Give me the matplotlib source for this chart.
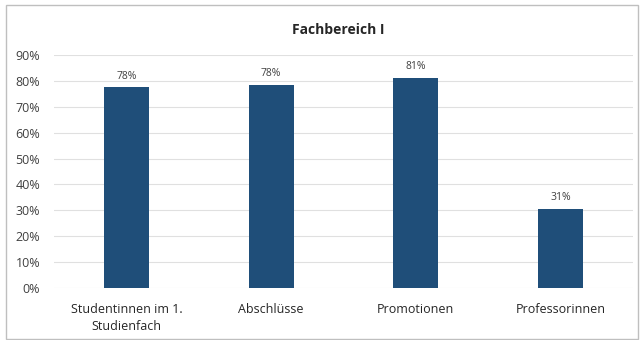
import matplotlib
matplotlib.use("Agg")
import matplotlib.pyplot as plt
from matplotlib.patches import Rectangle

categories = ["Studentinnen im 1.\nStudienfach", "Abschlüsse", "Promotionen", "Professorinnen"]
values = [0.776, 0.784, 0.812, 0.306]
yticks = [0.0, 0.1, 0.2, 0.3, 0.4, 0.5, 0.6, 0.7, 0.8, 0.9]
title = "Fachbereich I"

plt.rcParams['font.family'] = ['Open Sans', 'DejaVu Sans']

fig = plt.figure(figsize=(6.44, 3.4), dpi=100)
ax = fig.add_axes([54/644, 52/340, (633-54)/644, (288-55)/340])

x = range(len(categories))
bars = ax.bar(x, values, width=0.31, color='#1f4e79', zorder=3)
for b, v in zip(bars, values):
    ax.annotate(f"{round(v*100)}%", (b.get_x() + b.get_width()/2, v),
                xytext=(0, 4), textcoords='offset points',
                ha='center', va='bottom', fontsize=7.5, color='#404040')

ax.set_xlim(-0.5, len(categories) - 0.5)
ax.set_ylim(0, 0.9)
ax.set_yticks(yticks)
ax.set_yticklabels([f"{int(round(t*100))}%" for t in yticks], fontsize=9, color='#404040')
ax.set_xticks(list(x))
ax.set_xticklabels(categories, fontsize=9, color='#262626', linespacing=1.35)
ax.tick_params(length=0)
ax.tick_params(axis='y', pad=10)
ax.tick_params(axis='x', pad=11)
ax.grid(axis='y', color='#e0e0e0', linewidth=0.8, zorder=0)
for s in ax.spines.values():
    s.set_visible(False)

fig.text(338/644, 1 - 30/340, title, ha='center', va='center',
         fontsize=10, fontweight='bold', color='#262626')

fig.patches.append(Rectangle((6/644, 1/340), 632/644, 334/340, transform=fig.transFigure,
                             fill=False, edgecolor='#bfbfbf', linewidth=1))

fig.savefig("out.png", dpi=100)
